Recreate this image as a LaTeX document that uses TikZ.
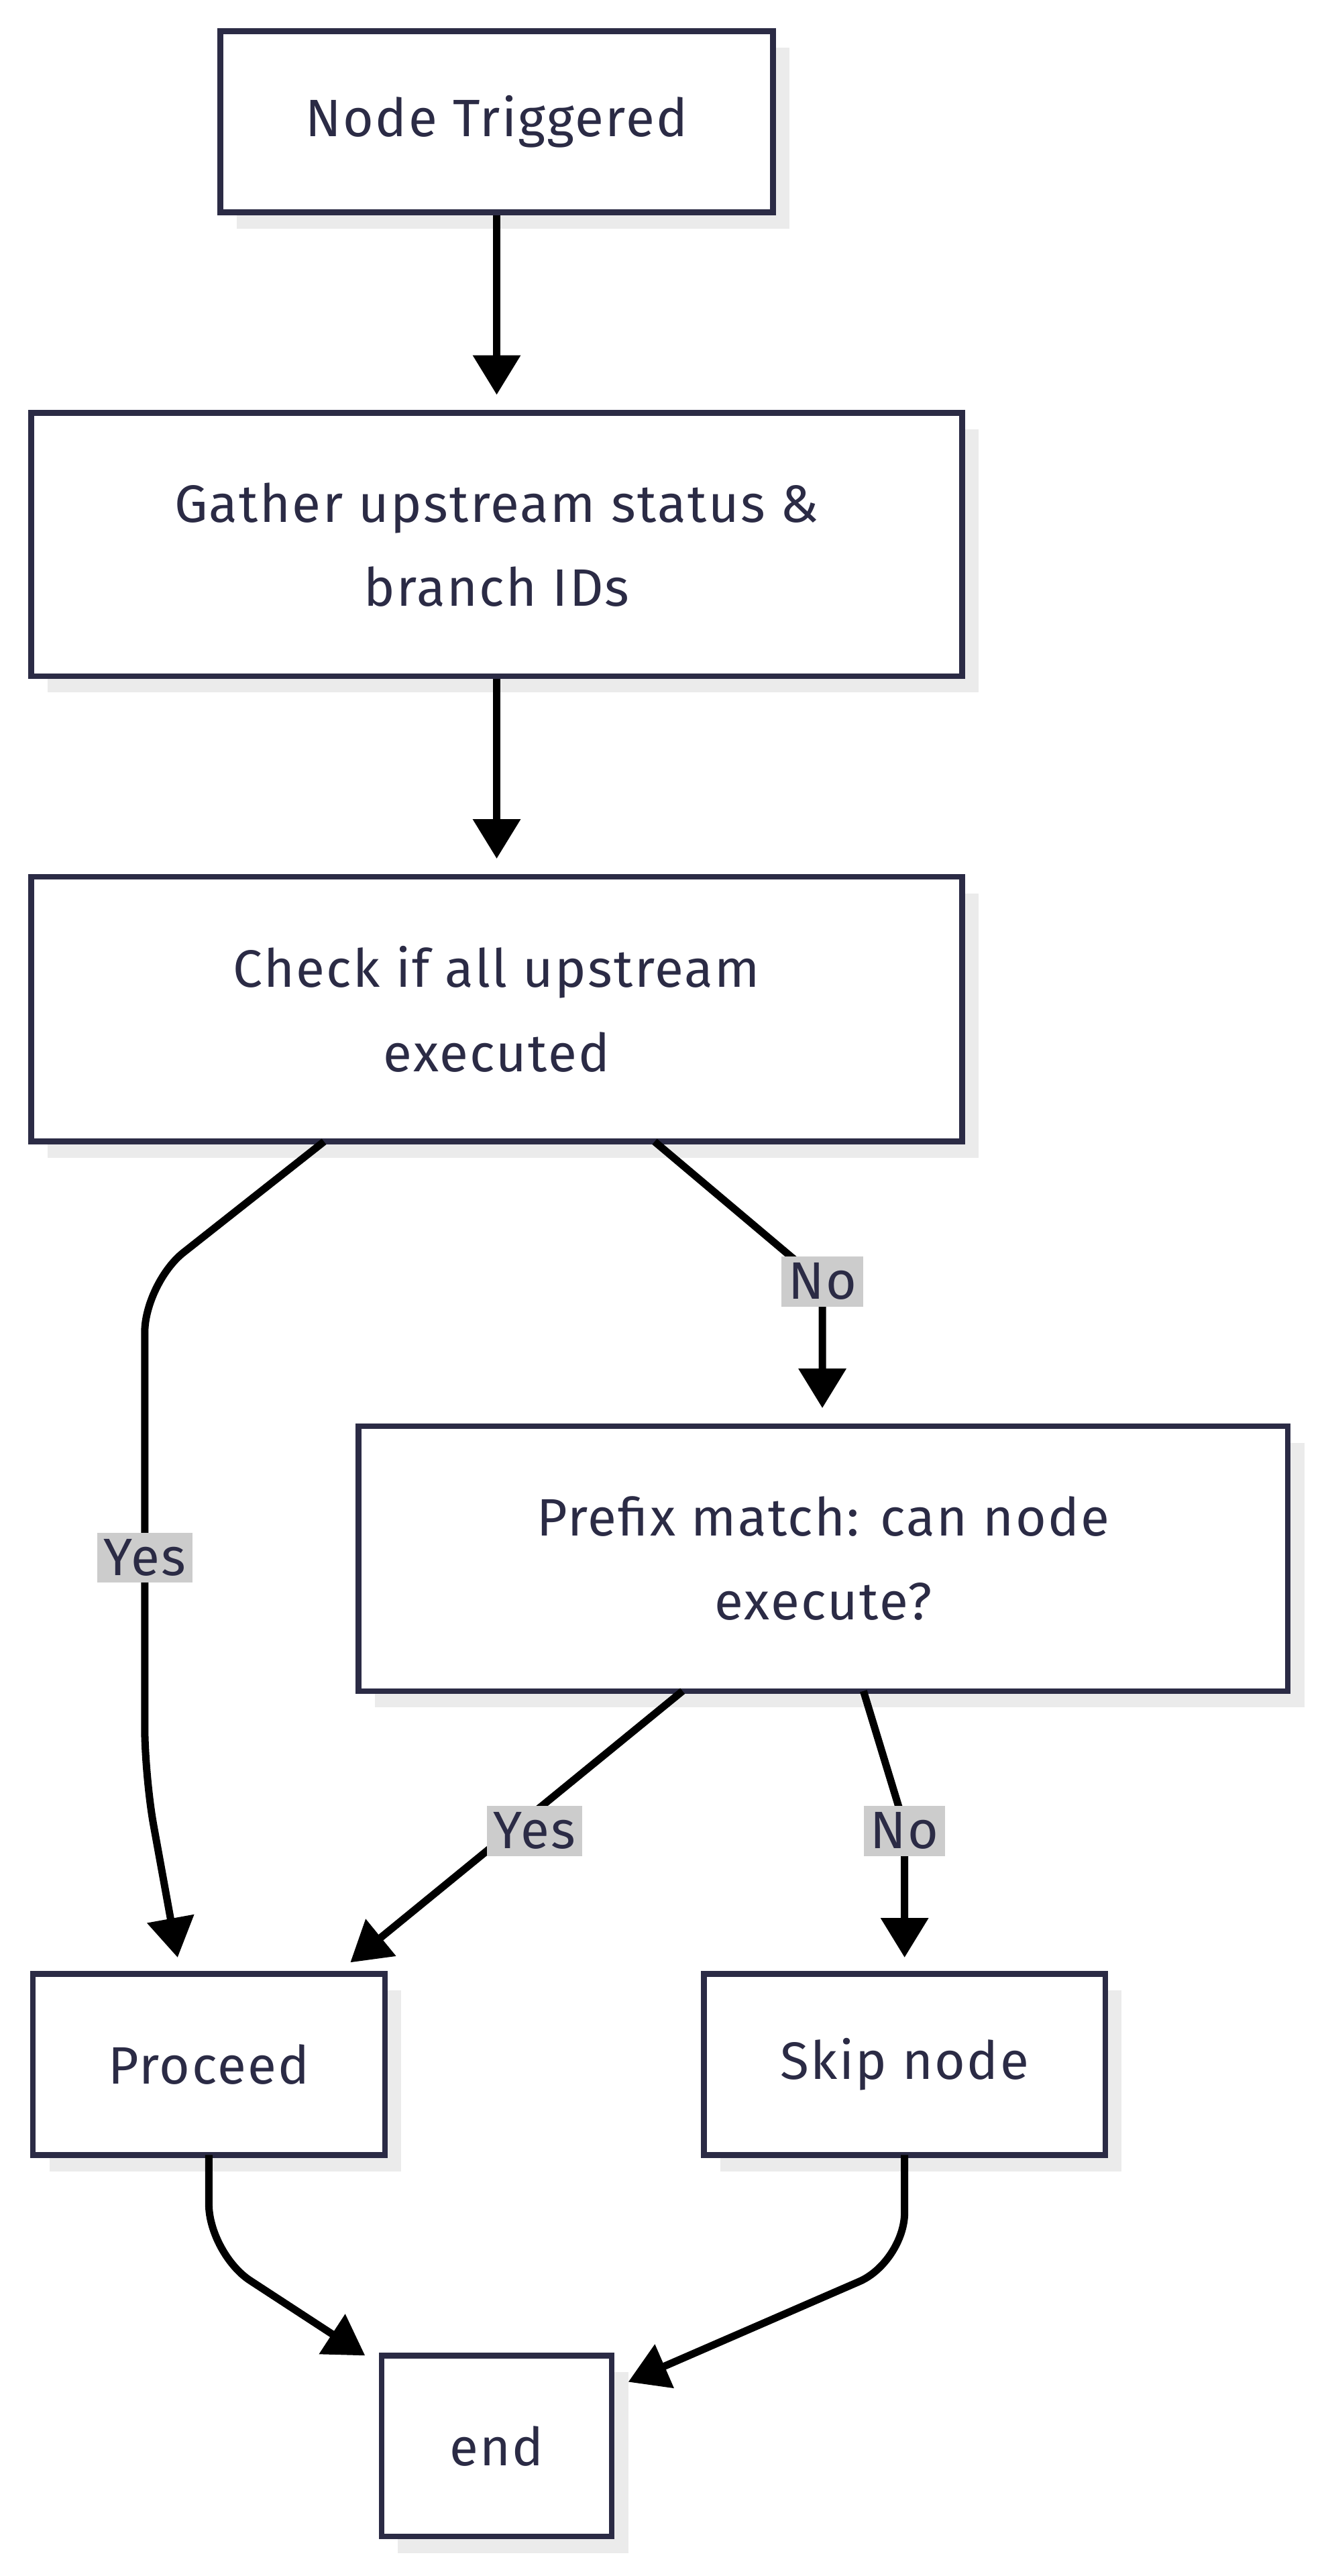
\documentclass[tikz,border=0pt]{standalone}
\usepackage{fontspec}
\setmainfont{Fira Sans}[LetterSpace=3]
\usetikzlibrary{arrows.meta,calc}
\definecolor{ink}{HTML}{2B2B45}
\definecolor{shadowgray}{HTML}{EBEBEB}
\definecolor{lbl}{HTML}{CCCCCC}
\begin{document}
\begin{tikzpicture}[x=1pt,y=-1pt,
  box/.style={draw=ink,line width=3.5pt,fill=white,inner sep=0pt,align=center,text=ink,font=\fontsize{32}{51}\selectfont},
  arr/.style={line width=4.5pt,draw=black,rounded corners=30pt,-{Triangle[length=24pt,width=28pt]}},
  lab/.style={fill=lbl,text=ink,font=\fontsize{32}{38}\selectfont,inner sep=4pt}]
\useasboundingbox (0,0) rectangle (805,1566);
\newcommand{\bx}[6]{%
  \fill[shadowgray] (#2+10,#3+10) rectangle (#4+10,#5+10);
  \node[box,minimum width=#4-#2,minimum height=#5-#3] (#1) at ({(#2+#4)/2},{(#3+#5)/2}) {#6};}
\bx{nt}{134}{19}{470}{129}{Node Triggered}
\bx{ga}{19}{251}{585}{411}{Gather upstream status \&\\branch IDs}
\bx{ch}{19}{533}{585}{694}{Check if all upstream\\executed}
\bx{pm}{218}{867}{783}{1028}{Prefix match: can node\\execute?}
\bx{pr}{20}{1200}{234}{1310}{Proceed}
\bx{sk}{428}{1200}{672}{1310}{Skip node}
\bx{en}{232}{1432}{372}{1542}{end}
\coordinate (t1) at (302,240);
\coordinate (t2) at (302,522);
\coordinate (t3) at (108,1190);
\coordinate (t4) at (500,856);
\coordinate (t5) at (213,1193);
\coordinate (t6) at (550,1190);
\coordinate (t7) at (222,1432);
\coordinate (t8) at (382,1448);
\draw[arr] (nt.south) -- (t1);
\draw[arr] (ga.south) -- (t2);
\draw[arr] (197,694) -- (88,780) -- (88,1080) -- (t3);
\draw[arr,rounded corners=0pt] (398,694) -- (500,780) -- (t4);
\draw[arr] (415,1028) -- (t5);
\draw[arr,rounded corners=0pt] (525,1028) -- (550,1110) -- (t6);
\draw[arr] (127,1310) -- (127,1370) -- (t7);
\draw[arr] (550,1310) -- (550,1375) -- (t8);
\node[lab] (l1) at (88,947) {Yes};
\node[lab] (l2) at (500,779) {No};
\node[lab] (l3) at (325,1113) {Yes};
\node[lab] (l4) at (550,1113) {No};
\end{tikzpicture}
\end{document}
